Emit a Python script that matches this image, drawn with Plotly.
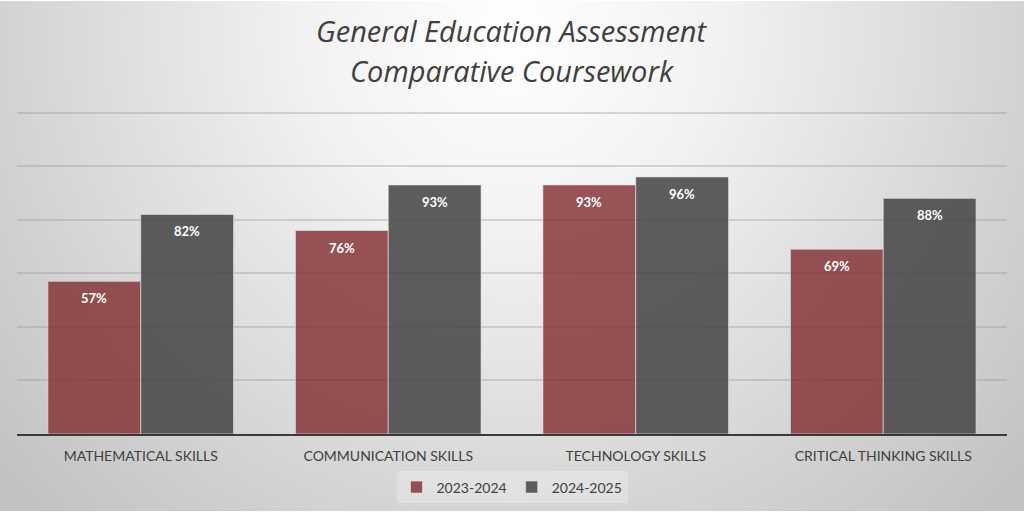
import base64
import plotly.graph_objects as go

categories = ['MATHEMATICAL SKILLS', 'COMMUNICATION SKILLS', 'TECHNOLOGY SKILLS', 'CRITICAL THINKING SKILLS']
series_names = ['2023-2024', '2024-2025']
values_2023 = [57, 76, 93, 69]
values_2024 = [82, 93, 96, 88]
title_lines = ['General Education Assessment', 'Comparative Coursework']

W, H = 1024, 515
L, R, T, B = 17, 17, 110, 78

# radial grey background, done as an svg image behind the plot
svg = f'''<svg xmlns="http://www.w3.org/2000/svg" width="{W}" height="{H}" viewBox="0 0 {W} {H}" preserveAspectRatio="none">
<defs><radialGradient id="g" gradientUnits="userSpaceOnUse" cx="512" cy="30" r="680">
<stop offset="0" stop-color="#ffffff"/><stop offset="0.3" stop-color="#f2f2f2"/><stop offset="0.7" stop-color="#d6d6d6"/><stop offset="1" stop-color="#c2c2c2"/>
</radialGradient></defs><rect width="{W}" height="{H}" fill="url(#g)"/></svg>'''
bg_uri = 'data:image/svg+xml;base64,' + base64.b64encode(svg.encode()).decode()

pw, ph = W - L - R, H - T - B
ymax = 121

fig = go.Figure()
colors = ['rgba(128,42,46,0.8)', 'rgba(72,72,72,0.88)']
for name, vals, col in zip(series_names, [values_2023, values_2024], colors):
    fig.add_trace(go.Bar(
        x=categories, y=vals, name=name,
        marker=dict(color=col, line=dict(color='rgba(230,230,230,0.6)', width=1)),
        hoverinfo='x+y',
    ))

# value labels just under the top of each bar
half = pw / len(categories) * 0.75 / 4
annotations = []
for vals, side in [(values_2023, -1), (values_2024, 1)]:
    for c, v in zip(categories, vals):
        annotations.append(dict(x=c, y=v, text=f'<b>{v}%</b>', showarrow=False,
                                xshift=side * half, yshift=-17, yanchor='middle',
                                font=dict(family='Lato', size=13, color='white')))

# two title lines, spaced like the original
for line, py in zip(title_lines, [30, 70]):
    annotations.append(dict(x=0.5, y=1 + (T - py) / ph, xref='paper', yref='paper',
                            text=f'<i>{line}</i>', showarrow=False, yanchor='middle',
                            font=dict(family='Open Sans', size=29, color='#404040')))

fig.update_layout(
    width=W, height=H,
    margin=dict(l=L, r=R, t=T, b=B),
    paper_bgcolor='#ffffff', plot_bgcolor='rgba(0,0,0,0)',
    barmode='group', bargap=0.25, bargroupgap=0,
    images=[dict(source=bg_uri, xref='paper', yref='paper',
                 x=-L / pw, y=1 + T / ph, sizex=W / pw, sizey=H / ph,
                 xanchor='left', yanchor='top', sizing='stretch', layer='below')],
    annotations=annotations,
    legend=dict(orientation='h', x=0.5, xanchor='center', y=-0.165, yanchor='middle',
                bgcolor='rgba(255,255,255,0.25)', font=dict(family='Lato', size=14, color='#404040'),
                traceorder='normal'),
    showlegend=True,
)
fig.update_xaxes(showline=True, linecolor='#3a3a3a', linewidth=2, ticks='',
                 ticklabelstandoff=8,
                 tickfont=dict(family='Lato', size=14, color='#404040'))
fig.update_yaxes(range=[0, ymax], dtick=20, showticklabels=False, showgrid=True,
                 gridcolor='rgba(150,150,150,0.35)', gridwidth=1.5, zeroline=False)

fig.write_html('out.html', config={'displayModeBar': False},
               post_script="document.body.style.margin='0';")
